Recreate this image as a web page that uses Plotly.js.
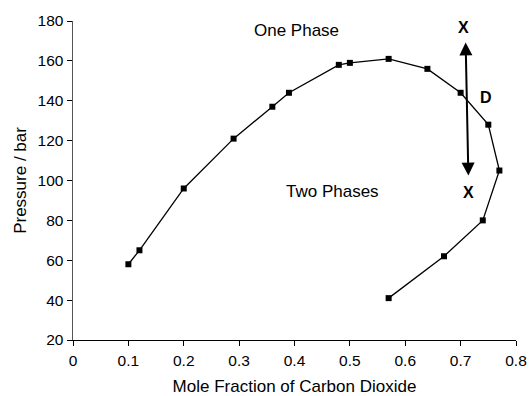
<!DOCTYPE html>
<html>
<head>
<meta charset="utf-8">
<script src="https://cdn.plot.ly/plotly-3.0.1.min.js"></script>
<style>
html, body { margin: 0; padding: 0; background: #fff; }
#chart { width: 529px; height: 396px; }
</style>
</head>
<body>
<div id="chart"></div>
<script>
// Phase envelope data (mole fraction CO2 vs pressure in bar)
const moleFraction = [0.10, 0.12, 0.20, 0.29, 0.36, 0.39, 0.48, 0.50, 0.57, 0.64, 0.70, 0.75, 0.77, 0.74, 0.67, 0.57];
const pressure     = [58,   65,   96,   121,  137,  144,  158,  159,  161,  156,  144,  128,  105,  80,   62,   41];

const xTicks = [0, 0.1, 0.2, 0.3, 0.4, 0.5, 0.6, 0.7, 0.8];
const xTickLabels = ['0', '0.1', '0.2', '0.3', '0.4', '0.5', '0.6', '0.7', '0.8'];
const yTicks = [20, 40, 60, 80, 100, 120, 140, 160, 180];

// arrow end points (data coordinates)
const arrowTop = [0.709, 170];
const arrowBottom = [0.714, 102.5];

const font = 'Liberation Sans, Arial, Helvetica, sans-serif';

const trace = {
  x: moleFraction,
  y: pressure,
  type: 'scatter',
  mode: 'lines+markers',
  line: { color: '#000', width: 1.3 },
  marker: { symbol: 'square', size: 6, color: '#000' },
  hoverinfo: 'skip'
};

const layout = {
  width: 529,
  height: 396,
  margin: { l: 73, r: 13, t: 21, b: 56, pad: 0 },
  paper_bgcolor: '#fff',
  plot_bgcolor: '#fff',
  showlegend: false,
  font: { family: font, color: '#000', size: 15.5 },
  xaxis: {
    range: [0, 0.8],
    tickvals: xTicks,
    ticktext: xTickLabels,
    showgrid: false,
    zeroline: false,
    showline: true,
    linecolor: '#000',
    linewidth: 1,
    ticks: 'outside',
    ticklen: 5,
    tickcolor: '#000',
    tickwidth: 1,
    ticklabelstandoff: 1,
    tickfont: { family: font, size: 15.5, color: '#000' },
    title: { text: 'Mole Fraction of Carbon Dioxide', font: { family: font, size: 17, color: '#000' }, standoff: 20 },
    fixedrange: true
  },
  yaxis: {
    range: [20, 180],
    tickvals: yTicks,
    showgrid: false,
    zeroline: false,
    showline: true,
    linecolor: '#555',
    linewidth: 1.5,
    ticks: 'outside',
    ticklen: 5,
    tickcolor: '#000',
    tickwidth: 1,
    tickfont: { family: font, size: 15.5, color: '#000' },
    title: { text: 'Pressure / bar', font: { family: font, size: 17, color: '#000' }, standoff: 6 },
    fixedrange: true
  },
  annotations: [
    { x: 0.4027, y: 175, xref: 'x', yref: 'y', text: 'One Phase', showarrow: false, font: { family: font, size: 17, color: '#000' } },
    { x: 0.4695, y: 94.5, xref: 'x', yref: 'y', text: 'Two Phases', showarrow: false, font: { family: font, size: 17, color: '#000' } },
    { x: 0.706, y: 176.5, xref: 'x', yref: 'y', text: '<b>X</b>', showarrow: false, font: { family: font, size: 16, color: '#000' } },
    { x: 0.715, y: 94.2, xref: 'x', yref: 'y', text: '<b>X</b>', showarrow: false, font: { family: font, size: 16, color: '#000' } },
    { x: 0.7453, y: 141.5, xref: 'x', yref: 'y', text: '<b>D</b>', showarrow: false, font: { family: font, size: 16, color: '#000' } },
    {
      x: arrowBottom[0], y: arrowBottom[1], xref: 'x', yref: 'y',
      ax: arrowTop[0], ay: arrowTop[1], axref: 'x', ayref: 'y',
      text: '', showarrow: true, arrowside: 'end+start',
      arrowhead: 2, arrowsize: 1.3, arrowwidth: 2, arrowcolor: '#000',
      standoff: 0, startstandoff: 0
    }
  ]
};

Plotly.newPlot('chart', [trace], layout, { displayModeBar: false, staticPlot: true });
</script>
</body>
</html>
